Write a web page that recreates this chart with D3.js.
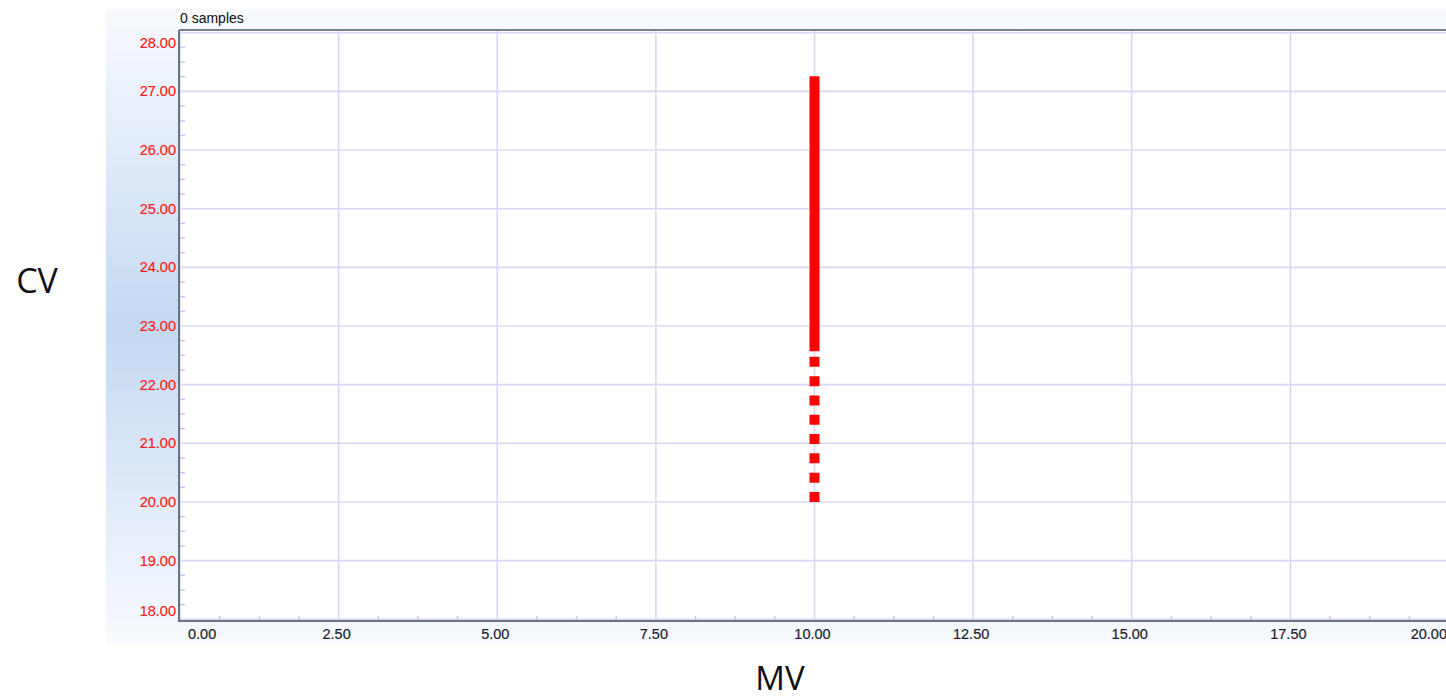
<!DOCTYPE html>
<html>
<head>
<meta charset="utf-8">
<script src="https://cdn.jsdelivr.net/npm/d3@7"></script>
<style>
  html, body { margin: 0; padding: 0; background: #ffffff; overflow: hidden; }
  svg { display: block; }
</style>
</head>
<body>
<svg id="chart" width="1446" height="700"></svg>
<script>
// ---- data ----
const title = "0 samples";
const xLabel = "MV";
const yLabel = "CV";
const xTicks = [0, 2.5, 5, 7.5, 10, 12.5, 15, 17.5, 20];
const yTicks = [18, 19, 20, 21, 22, 23, 24, 25, 26, 27, 28];
const solidSegment = [ {mv: 10, cv: 22.57}, {mv: 10, cv: 27.26} ];
const dashedSegment = [ {mv: 10, cv: 20.0}, {mv: 10, cv: 22.57} ];

// ---- layout ----
const W = 1446, H = 700;
const panel = {x: 106, y: 9, w: 1340, h: 636};
const plot = {left: 180, top: 31, right: 1449, bottom: 621};

const svg = d3.select("#chart");
const defs = svg.append("defs");
const grad = defs.append("linearGradient").attr("id", "panelGrad")
  .attr("x1", 0).attr("y1", 0).attr("x2", 0).attr("y2", 1);
grad.append("stop").attr("offset", "0%").attr("stop-color", "#f8fafe");
grad.append("stop").attr("offset", "50%").attr("stop-color", "#c4d8f2");
grad.append("stop").attr("offset", "100%").attr("stop-color", "#f8fafe");

defs.append("clipPath").attr("id", "plotClip").append("rect")
  .attr("x", plot.left).attr("y", plot.top)
  .attr("width", plot.right - plot.left).attr("height", plot.bottom - plot.top);

svg.append("rect").attr("x", panel.x).attr("y", panel.y)
  .attr("width", panel.w).attr("height", panel.h).attr("fill", "url(#panelGrad)");

svg.append("rect").attr("x", plot.left).attr("y", plot.top)
  .attr("width", plot.right - plot.left).attr("height", plot.bottom - plot.top)
  .attr("fill", "#ffffff");

const x = d3.scaleLinear().domain([0, 20]).range([plot.left, plot.right]);
const y = d3.scaleLinear().domain([17.97, 28.03]).range([plot.bottom, plot.top]);

const gridColor = "#d8d8f6";
const g = svg.append("g").attr("clip-path", "url(#plotClip)");

// gridlines
g.selectAll(".vgrid").data(xTicks).join("line")
  .attr("x1", d => x(d)).attr("x2", d => x(d))
  .attr("y1", plot.top).attr("y2", plot.bottom)
  .attr("stroke", gridColor).attr("stroke-width", 1.6);
g.selectAll(".hgrid").data(yTicks).join("line")
  .attr("y1", d => y(d)).attr("y2", d => y(d))
  .attr("x1", plot.left).attr("x2", plot.right)
  .attr("stroke", gridColor).attr("stroke-width", 1.6);

// minor ticks
const xMinor = d3.range(0, 20.0001, 0.625).filter(v => Math.abs(v / 2.5 - Math.round(v / 2.5)) > 1e-6);
g.selectAll(".xminor").data(xMinor).join("line")
  .attr("x1", d => x(d)).attr("x2", d => x(d))
  .attr("y1", plot.bottom - 5).attr("y2", plot.bottom)
  .attr("stroke", "#c4c4ee").attr("stroke-width", 1.5);
const yMinor = d3.range(18, 28.0001, 0.25).filter(v => Math.abs(v - Math.round(v)) > 1e-6);
g.selectAll(".yminor").data(yMinor).join("line")
  .attr("y1", d => y(d)).attr("y2", d => y(d))
  .attr("x1", plot.left).attr("x2", plot.left + 5)
  .attr("stroke", "#c4c4ee").attr("stroke-width", 1.5);

// data lines
const line = d3.line().x(d => x(d.mv)).y(d => y(d.cv));
g.append("path").datum(dashedSegment).attr("d", line)
  .attr("fill", "none").attr("stroke", "#ff0000").attr("stroke-width", 10)
  .attr("stroke-dasharray", "10,9.3");
g.append("path").datum(solidSegment).attr("d", line)
  .attr("fill", "none").attr("stroke", "#ff0000").attr("stroke-width", 10);

// plot border (left, top, bottom)
svg.append("line").attr("x1", plot.left - 1).attr("x2", plot.left - 1)
  .attr("y1", plot.top - 1).attr("y2", plot.bottom + 1)
  .attr("stroke", "#6a7582").attr("stroke-width", 2);
svg.append("line").attr("x1", plot.left - 1).attr("x2", W)
  .attr("y1", plot.top - 1).attr("y2", plot.top - 1)
  .attr("stroke", "#75828f").attr("stroke-width", 2);
svg.append("line").attr("x1", plot.left - 1).attr("x2", W)
  .attr("y1", plot.bottom).attr("y2", plot.bottom)
  .attr("stroke", "#6a7582").attr("stroke-width", 2);

// tick labels
const tickFont = "'Liberation Sans', Arial, sans-serif";
svg.selectAll(".ylab").data(yTicks).join("text")
  .attr("x", plot.left - 4)
  .attr("y", d => Math.max(43, Math.min(611, y(d))))
  .attr("dy", "0.35em")
  .attr("text-anchor", "end")
  .attr("font-family", tickFont).attr("font-size", 14.5)
  .attr("fill", "#ff1c1c")
  .attr("stroke", "#ff1c1c").attr("stroke-width", 0.2)
  .text(d => d3.format(".2f")(d));

svg.selectAll(".xlab").data(xTicks).join("text")
  .attr("x", (d, i) => i === 0 ? x(d) + 8 : (i === xTicks.length - 1 ? 1447 : x(d) - 2))
  .attr("y", 634)
  .attr("dy", "0.35em")
  .attr("text-anchor", (d, i) => i === 0 ? "start" : (i === xTicks.length - 1 ? "end" : "middle"))
  .attr("font-family", tickFont).attr("font-size", 14.5)
  .attr("fill", "#1c1c2c")
  .attr("stroke", "#1c1c2c").attr("stroke-width", 0.2)
  .text(d => d3.format(".2f")(d));

// title
svg.append("text").attr("x", plot.left).attr("y", 23)
  .attr("font-family", tickFont).attr("font-size", 14)
  .attr("fill", "#111").text(title);

// axis titles
svg.append("text").attr("x", 37).attr("y", 293).attr("text-anchor", "middle")
  .attr("font-family", "'Open Sans', sans-serif").attr("font-size", 34)
  .attr("fill", "#111").text(yLabel);
svg.append("text").attr("x", 780).attr("y", 690).attr("text-anchor", "middle")
  .attr("font-family", "'Open Sans', sans-serif").attr("font-size", 33)
  .attr("fill", "#111").text(xLabel);
</script>
</body>
</html>
